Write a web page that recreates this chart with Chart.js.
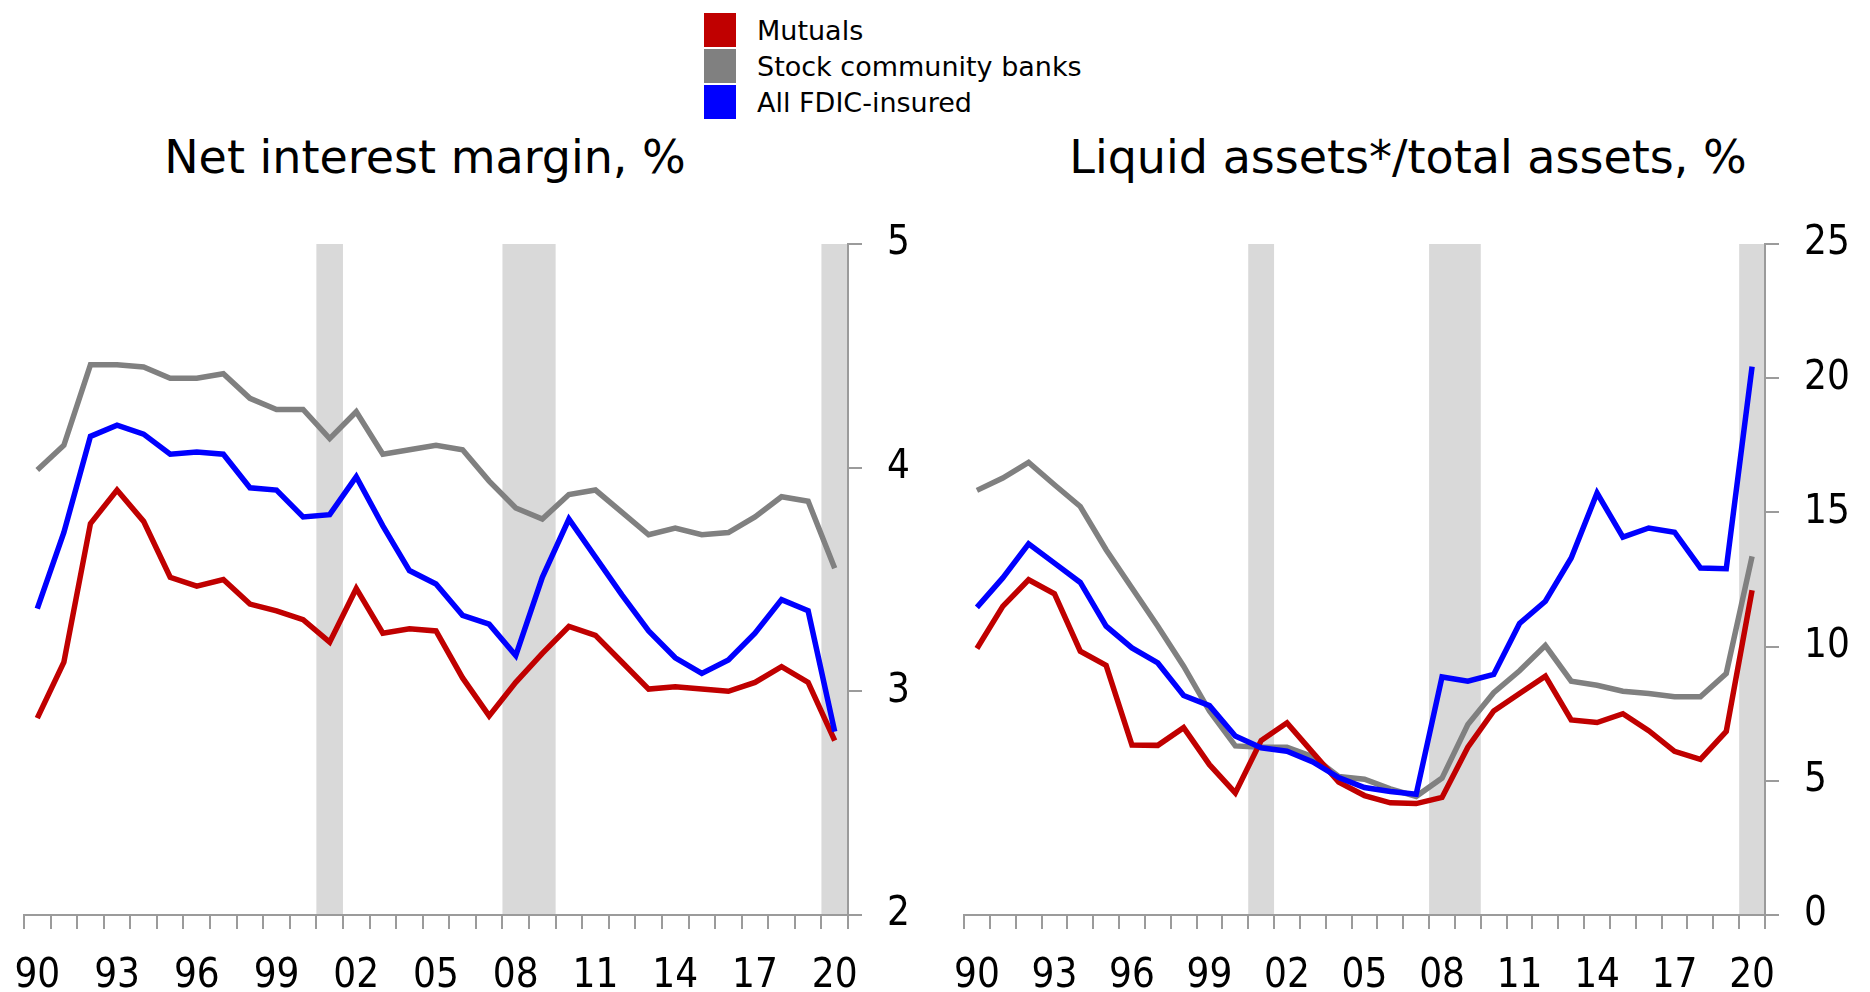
<!DOCTYPE html>
<html>
<head>
<meta charset="utf-8">
<script src="https://cdn.jsdelivr.net/npm/chart.js@4.4.1/dist/chart.umd.min.js"></script>
<style>
  body { margin: 0; width: 1870px; height: 992px; background: #fff; position: relative; overflow: hidden; font-family: 'DejaVu Sans', sans-serif; }
  .title { position: absolute; top: 134px; width: 850px; text-align: center; font-size: 46px; line-height: 46px; color: #000; }
  #legend { position: absolute; left: 704px; top: 12px; }
  .row { display: flex; align-items: center; height: 36px; }
  .box { width: 32px; height: 34px; margin-right: 21px; }
  .row span { font-size: 27px; color: #000; }
  canvas { position: absolute; top: 200px; }
</style>
</head>
<body>
<div id="legend"></div>
<div class="title" style="left:0">Net interest margin, %</div>
<div class="title" style="left:983px">Liquid assets*/total assets, %</div>
<canvas id="nim" width="935" height="792" style="left:0"></canvas>
<canvas id="liq" width="935" height="792" style="left:935px"></canvas>
<script>
const years = ['1990', '1991', '1992', '1993', '1994', '1995', '1996', '1997', '1998', '1999',
    '2000', '2001', '2002', '2003', '2004', '2005', '2006', '2007', '2008', '2009',
    '2010', '2011', '2012', '2013', '2014', '2015', '2016', '2017', '2018', '2019', '2020'];
const tickYears = ['1990', '1993', '1996', '1999', '2002', '2005', '2008', '2011', '2014', '2017', '2020'];
const recessions = [['2001', '2001'], ['2008', '2009'], ['2020', '2020']];

const seriesNames = ['Mutuals', 'Stock community banks', 'All FDIC-insured'];
const seriesColors = ['#c00000', '#808080', '#0000ff'];

// net interest margin, %
const nimMutuals = [2.88, 3.13, 3.75, 3.90, 3.76, 3.51, 3.47, 3.50, 3.39, 3.36, 3.32, 3.22, 3.46, 3.26, 3.28, 3.27,
    3.06, 2.89, 3.04, 3.17, 3.29, 3.25, 3.13, 3.01, 3.02, 3.01, 3.00, 3.04, 3.11, 3.04, 2.78];
const nimStock = [3.99, 4.10, 4.46, 4.46, 4.45, 4.40, 4.40, 4.42, 4.31, 4.26, 4.26, 4.13, 4.25, 4.06, 4.08, 4.10,
    4.08, 3.94, 3.82, 3.77, 3.88, 3.90, 3.80, 3.70, 3.73, 3.70, 3.71, 3.78, 3.87, 3.85, 3.55];
const nimAll = [3.37, 3.71, 4.14, 4.19, 4.15, 4.06, 4.07, 4.06, 3.91, 3.90, 3.78, 3.79, 3.96, 3.74, 3.54, 3.48,
    3.34, 3.30, 3.16, 3.51, 3.77, 3.60, 3.43, 3.27, 3.15, 3.08, 3.14, 3.26, 3.41, 3.36, 2.82];
const nimTicks = [2, 3, 4, 5];

// liquid assets / total assets, %
const liqMutuals = [9.93, 11.5, 12.49, 11.97, 9.83, 9.3, 6.33, 6.32, 6.98, 5.6, 4.55, 6.5, 7.16, 6.05, 4.95, 4.45,
    4.18, 4.15, 4.38, 6.25, 7.6, 8.25, 8.9, 7.27, 7.17, 7.5, 6.87, 6.1, 5.8, 6.84, 12.1];
const liqStock = [15.82, 16.28, 16.86, 16.03, 15.22, 13.61, 12.18, 10.76, 9.27, 7.6, 6.3, 6.25, 6.25, 5.9, 5.16, 5.06,
    4.7, 4.42, 5.1, 7.1, 8.28, 9.1, 10.04, 8.71, 8.56, 8.34, 8.25, 8.13, 8.13, 9.0, 13.36];
const liqAll = [11.46, 12.56, 13.83, 13.11, 12.39, 10.76, 9.95, 9.39, 8.18, 7.8, 6.67, 6.23, 6.1, 5.7, 5.12, 4.75,
    4.6, 4.5, 8.87, 8.71, 8.96, 10.86, 11.69, 13.3, 15.72, 14.08, 14.42, 14.26, 12.93, 12.9, 20.43];
const liqTicks = [0, 5, 10, 15, 20, 25];

const axisGray = '#9b9b9b';
const tickFont = { family: "'DejaVu Sans Condensed', 'DejaVu Sans', sans-serif", size: 40 };

// legend
const legend = document.getElementById('legend');
seriesNames.forEach((name, i) => {
    const row = document.createElement('div');
    row.className = 'row';
    row.innerHTML = `<div class="box" style="background:${seriesColors[i]}"></div><span>${name}</span>`;
    legend.appendChild(row);
});

// grey recession bars behind everything
const recessionBars = {
    id: 'recessionBars',
    beforeDraw(chart) {
        const { ctx, chartArea, scales: { x } } = chart;
        const half = (x.getPixelForValue(1) - x.getPixelForValue(0)) / 2;
        ctx.save();
        ctx.fillStyle = '#d9d9d9';
        recessions.forEach(([a, b]) => {
            const x0 = x.getPixelForValue(years.indexOf(a)) - half;
            const x1 = x.getPixelForValue(years.indexOf(b)) + half;
            ctx.fillRect(x0, chartArea.top, x1 - x0, chartArea.bottom - chartArea.top);
        });
        ctx.restore();
    }
};

function makeChart(id, series, yTicks, padLeft, yWidth) {
    const order = [1, 2, 0];
    return new Chart(document.getElementById(id), {
        type: 'line',
        data: {
            labels: years,
            datasets: series.map((data, i) => ({
                label: seriesNames[i],
                data: data,
                borderColor: seriesColors[i],
                borderWidth: 5.5,
                pointRadius: 0,
                tension: 0,
                order: order[i]
            }))
        },
        options: {
            responsive: false,
            animation: false,
            devicePixelRatio: 1,
            layout: { padding: { left: padLeft, top: 44, right: 0, bottom: 0 } },
            plugins: { legend: { display: false }, tooltip: { enabled: false } },
            scales: {
                x: {
                    type: 'category',
                    offset: true,
                    grid: { offset: true, drawOnChartArea: false, drawTicks: true, tickLength: 14, color: axisGray, lineWidth: 2 },
                    border: { color: axisGray, width: 2 },
                    ticks: {
                        autoSkip: false,
                        maxRotation: 0,
                        padding: 24,
                        color: '#000',
                        font: tickFont,
                        callback: (v, i) => tickYears.includes(years[i]) ? years[i].slice(2) : ''
                    },
                    afterFit: (axis) => {
                        axis.height = 77;
                        axis.paddingLeft = 0;
                        axis.paddingRight = 0;
                    }
                },
                y: {
                    position: 'right',
                    min: yTicks[0],
                    max: yTicks[yTicks.length - 1],
                    grid: { drawOnChartArea: false, drawTicks: true, tickLength: 14, color: axisGray, lineWidth: 2 },
                    border: { color: axisGray, width: 2 },
                    ticks: {
                        stepSize: yTicks[1] - yTicks[0],
                        padding: 25,
                        color: '#000',
                        font: tickFont
                    },
                    afterFit: (axis) => {
                        axis.width = yWidth;
                        axis.paddingTop = 0;
                        axis.paddingBottom = 0;
                    }
                }
            }
        },
        plugins: [recessionBars]
    });
}

makeChart('nim', [nimMutuals, nimStock, nimAll], nimTicks, 24, 87);
makeChart('liq', [liqMutuals, liqStock, liqAll], liqTicks, 29, 105);
</script>
</body>
</html>
